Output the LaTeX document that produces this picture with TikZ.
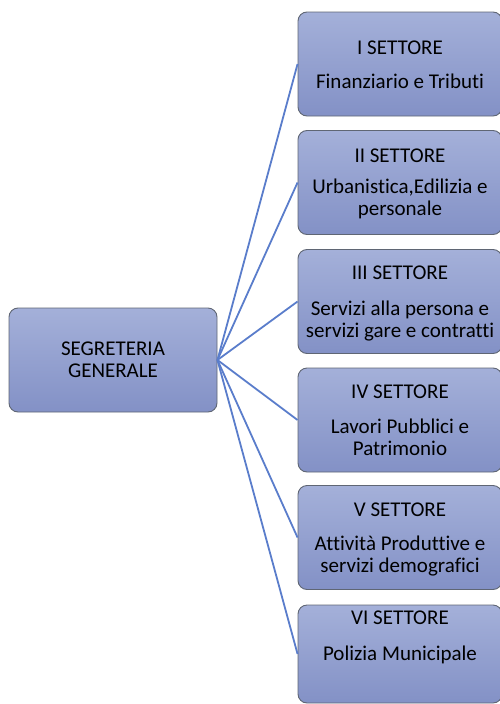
\documentclass[tikz,border=0pt]{standalone}
\usepackage{fontspec}
\setmainfont[Ligatures={NoCommon}]{Carlito}
\begin{document}
\begin{tikzpicture}[x=1pt,y=-1pt,
  box/.style={draw=boxline, line width=0.9pt, rounded corners=9pt,
    top color=boxtop, bottom color=boxbot, minimum width=204pt, minimum height=104pt,
    inner sep=0pt},
  lbl/.style={font=\fontsize{21}{22}\selectfont, align=center, text=black, inner sep=0pt},
  link/.style={draw=linkblue, line width=1.8pt}]
\definecolor{boxtop}{HTML}{A4B0D9}
\definecolor{boxbot}{HTML}{8391C6}
\definecolor{boxline}{HTML}{5F6674}
\definecolor{linkblue}{HTML}{5A7DCB}
\useasboundingbox (0,0) rectangle (499,704);
\node[box, minimum width=208pt] (root) at (113,360) {};
\node[box] (b1) at (400,64) {};
\node[box] (b2) at (400,182.5) {};
\node[box] (b3) at (400,301.5) {};
\node[box] (b4) at (400,420) {};
\node[box] (b5) at (400,537.5) {};
\node[box, minimum height=98pt] (b6) at (400,654) {};
\foreach \b in {b1,b2,b3,b4,b5,b6} \draw[link] (root.east) -- (\b.west);
\node[lbl] (rt) at (113,360) {SEGRETERIA\\GENERALE};
\node[lbl] (t1) at (400,48) {I SETTORE};
\node[lbl] (d1) at (400,81) {Finanziario e Tributi};
\node[lbl] (t2) at (400,156) {II SETTORE};
\node[lbl] (d2) at (400,199) {Urbanistica,Edilizia e\\personale};
\node[lbl] (t3) at (400,273) {III SETTORE};
\node[lbl] (d3) at (400,321) {Servizi alla persona e\\servizi gare e contratti};
\node[lbl] (t4) at (400,392) {IV SETTORE};
\node[lbl] (d4) at (400,437.5) {Lavori Pubblici e\\Patrimonio};
\node[lbl] (t5) at (400,510) {V SETTORE};
\node[lbl] (d5) at (400,556) {Attività Produttive e\\servizi demografici};
\node[lbl] (t6) at (400,618) {VI SETTORE};
\node[lbl] (d6) at (400,655) {Polizia Municipale};
\end{tikzpicture}
\end{document}
